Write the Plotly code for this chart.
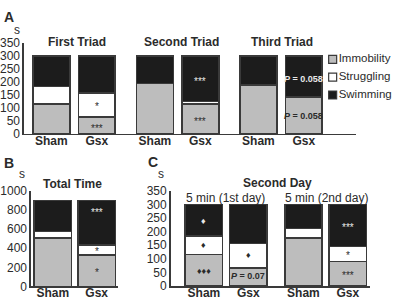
import plotly.graph_objects as go

W, H = 393, 308

# ---------------- data ----------------
segments = ["Immobility", "Struggling", "Swimming"]
seg_colors = ["#bdbdbd", "#ffffff", "#1c1c1c"]

# Panel A (First / Second / Third Triad)
a_groups = ["Sham", "Gsx", "Sham", "Gsx", "Sham", "Gsx"]
a_immobility = [115, 66, 195, 115, 189, 143]
a_struggling = [68, 92, 0, 10, 0, 0]
a_swimming = [117, 142, 105, 175, 111, 157]
a_titles = ["First Triad", "Second Triad", "Third Triad"]

# Panel B (Total Time)
b_groups = ["Sham", "Gsx"]
b_immobility = [504, 327]
b_struggling = [73, 107]
b_swimming = [323, 466]

# Panel C (Second Day)
c_groups = ["Sham", "Gsx", "Sham", "Gsx"]
c_immobility = [116, 67, 176, 90]
c_struggling = [68, 90, 36, 55]
c_swimming = [116, 143, 88, 155]
c_titles = ["5 min (1st day)", "5 min (2nd day)"]

a_ticks = [0, 50, 100, 150, 200, 250, 300, 350]
b_ticks = [0, 200, 400, 600, 800, 1000]
c_ticks = [0, 50, 100, 150, 200, 250, 300, 350]

# significance marks: (panel, bar index, y value, text, colour)
marks = [
    ("a", 1, 107, "*", "dark"),
    ("a", 1, 20, "***", "dark"),
    ("a", 3, 204, "***", "light"),
    ("a", 3, 50, "***", "dark"),
    ("a", 5, 214, "<b><i>P</i> = 0.058</b>", "light"),
    ("a", 5, 70, "<b><i>P</i> = 0.058</b>", "dark"),
    ("b", 1, 772, "***", "light"),
    ("b", 1, 362, "*", "dark"),
    ("b", 1, 142, "*", "dark"),
    ("c", 0, 240, "\u2666", "light"),
    ("c", 0, 152, "\u2666", "dark"),
    ("c", 0, 57, "\u2666\u2666\u2666", "dark"),
    ("c", 1, 113, "\u2666", "dark"),
    ("c", 1, 37, "<b><i>P</i> = 0.07</b>", "dark"),
    ("c", 3, 217, "***", "light"),
    ("c", 3, 112, "*", "dark"),
    ("c", 3, 38, "***", "dark"),
]

# ---------------- layout helpers ----------------
def px_x(p):
    return p / W

def px_y(p):
    return 1 - p / H

FONT = "Liberation Sans, Arial, sans-serif"
DARK = "#2b2b2b"
LINE = "#3a3a3a"

a_pos = [0, 1, 2.28, 3.28, 4.56, 5.56]
b_pos = [0, 1]
c_pos = [0, 1, 2.24, 3.24]

panels = {
    "a": dict(x="x", y="y", pos=a_pos, groups=a_groups,
              vals=[a_immobility, a_struggling, a_swimming], width=0.81),
    "b": dict(x="x2", y="y2", pos=b_pos, groups=b_groups,
              vals=[b_immobility, b_struggling, b_swimming], width=0.86),
    "c": dict(x="x3", y="y3", pos=c_pos, groups=c_groups,
              vals=[c_immobility, c_struggling, c_swimming], width=0.84),
}

fig = go.Figure()
for key, p in panels.items():
    for si, seg in enumerate(segments):
        fig.add_trace(go.Bar(
            x=p["pos"], y=p["vals"][si], xaxis=p["x"], yaxis=p["y"],
            name=seg, width=p["width"], showlegend=False,
            marker=dict(color=seg_colors[si], line=dict(color=LINE, width=1.6)),
            hoverinfo="skip",
        ))

# legend drawn as a small marker+text trace
fig.add_trace(go.Scatter(
    x=[7.5, 7.5, 7.5], y=[2, 1, 0], xaxis="x4", yaxis="y4",
    mode="markers+text", text=segments, textposition="middle right",
    textfont=dict(family=FONT, size=11.5, color=DARK), cliponaxis=False,
    marker=dict(symbol="square", size=8, color=seg_colors,
                line=dict(color=LINE, width=1.2)),
    showlegend=False, hoverinfo="skip",
))

def yaxis_common(rng, ticks, dom):
    return dict(domain=dom, range=rng, tickvals=ticks, showgrid=False, zeroline=False,
                showline=True, linecolor=LINE, linewidth=1.5, ticks="",
                tickfont=dict(family=FONT, size=12, color=DARK), fixedrange=True)

def xaxis_common(rng, pos, groups, dom, anchor):
    return dict(domain=dom, range=rng, tickvals=pos,
                ticktext=["<b>%s</b>" % g for g in groups], anchor=anchor,
                showgrid=False, zeroline=False, showline=True, linecolor=LINE,
                linewidth=1.5, ticks="", ticklabelstandoff=-5,
                tickfont=dict(family=FONT, size=12, color=DARK),
                fixedrange=True)

fig.update_layout(
    width=W, height=H, margin=dict(l=0, r=0, t=0, b=0),
    paper_bgcolor="white", plot_bgcolor="white", barmode="stack", bargap=0,
    font=dict(family=FONT, color=DARK),
    xaxis=xaxis_common([-0.604, 6.71], a_pos, a_groups, [px_x(23), px_x(356)], "y"),
    yaxis=yaxis_common([0, 350], a_ticks, [px_y(133), px_y(38)]) | dict(anchor="x"),
    xaxis2=xaxis_common([-0.5, 1.48], b_pos, b_groups, [px_x(30), px_x(117)], "y2"),
    yaxis2=yaxis_common([0, 1000], b_ticks, [px_y(292.7), px_y(192.7)]) | dict(anchor="x2"),
    xaxis3=xaxis_common([-0.75, 3.74], c_pos, c_groups, [px_x(170), px_x(370)], "y3"),
    yaxis3=yaxis_common([0, 350], c_ticks, [px_y(292.3), px_y(192.7)]) | dict(anchor="x3"),
    xaxis4=dict(domain=[px_x(325), px_x(343)], range=[0, 18], visible=False, fixedrange=True, anchor="y4"),
    yaxis4=dict(domain=[px_y(101.5), px_y(45.5)], range=[-0.5, 2.5], visible=False,
                fixedrange=True, anchor="x4"),
)

ann = []
def text_ann(xp, yp, text, size, bold=False):
    ann.append(dict(x=px_x(xp), y=px_y(yp), xref="paper", yref="paper", showarrow=False,
                    text=("<b>%s</b>" % text) if bold else text,
                    font=dict(family=FONT, size=size, color=DARK),
                    xanchor="center", yanchor="middle"))

# panel letters and unit labels
text_ann(8, 10, "A", 14, True)
text_ann(16, 24, "s", 12)
text_ann(8, 163, "B", 14, True)
text_ann(21, 175, "s", 12)
text_ann(152, 162, "C", 14, True)
text_ann(160, 175, "s", 12)

# panel titles
for t, xp in zip(a_titles, [76.5, 180.5, 282]):
    text_ann(xp, 37, t, 12, True)
text_ann(72, 185, "Total Time", 12, True)
text_ann(277, 184, "Second Day", 12, True)
for t, xp in zip(c_titles, [225, 326]):
    text_ann(xp, 200, t, 12)

axis_ref = {"a": ("x", "y"), "b": ("x2", "y2"), "c": ("x3", "y3")}
for panel, idx, yv, txt, tone in marks:
    xr, yr = axis_ref[panel]
    is_p = "P" in txt
    is_d = "\u2666" in txt
    size = 9 if is_p else (9 if is_d else 10)
    ann.append(dict(x=panels[panel]["pos"][idx], y=yv, xref=xr, yref=yr, showarrow=False,
                    text=txt, xanchor="center", yanchor="middle",
                    font=dict(family=FONT, size=size,
                              color="#e8e8e8" if tone == "light" else DARK)))

fig.update_layout(annotations=ann)
fig.write_html("out.html", config={"displayModeBar": False, "staticPlot": True},
               post_script="document.body.style.margin='0';document.body.style.overflow='hidden';")
